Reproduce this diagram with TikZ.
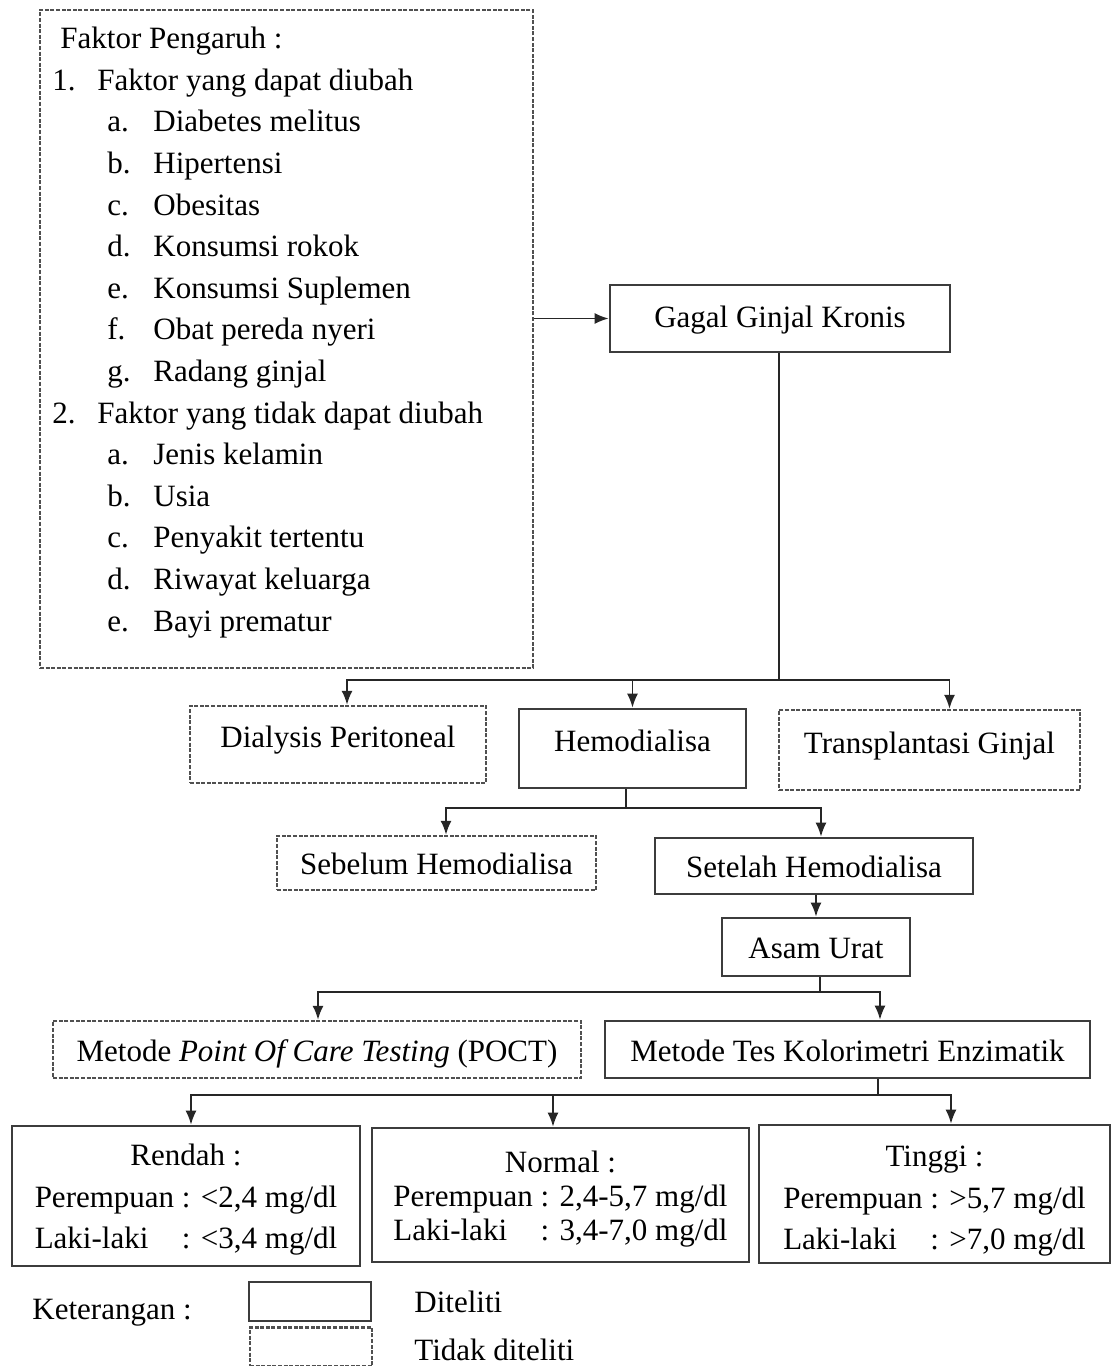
\documentclass[tikz,border=0pt]{standalone}
\usepackage{fontspec}
\setmainfont{Liberation Serif}
\usetikzlibrary{arrows.meta,calc}
\definecolor{boxgray}{RGB}{60,60,60}
\definecolor{dashgray}{RGB}{80,80,80}
\newcommand{\fitem}[2]{\makebox[22.5pt][l]{#1}#2}
\newcommand{\fsub}[2]{\hspace*{27.5pt}\makebox[23pt][l]{#1}#2}
\newcommand{\lakilaki}{\rlap{Laki-laki}\phantom{Perempuan}}

\begin{document}
\begin{tikzpicture}[x=0.5pt, y=-0.5pt,
    font=\fontsize{15.5}{20.8}\selectfont,
    box/.style={draw=boxgray, line width=1.3pt, inner sep=2pt, text height=12pt, text depth=3.5pt},
    dbox/.style={draw=dashgray, line width=1.2pt, dash pattern=on 2pt off 0.8pt, inner sep=2pt,
                 text height=12pt, text depth=3.5pt},
    toptext/.style={text depth=9pt},
    lowtext/.style={text height=15pt},
    kadar/.style={draw=boxgray, line width=1.3pt, inner sep=2pt, align=center},
    conn/.style={draw=black!85, line width=0.9pt},
    arr/.style={conn, -{Latex[length=7pt,width=5.5pt]}}]
\useasboundingbox (0,0) rectangle (1112,1366);

% faktor pengaruh
\node[dbox, minimum width=246.5pt, minimum height=329pt] (faktor) at (286.5,339) {};
\node[anchor=base west, align=left, inner sep=0pt] (faktortxt) at (52,631) {%
    \hspace*{4pt}Faktor Pengaruh :\\
    \fitem{1.}{Faktor yang dapat diubah}\\
    \fsub{a.}{Diabetes melitus}\\
    \fsub{b.}{Hipertensi}\\
    \fsub{c.}{Obesitas}\\
    \fsub{d.}{Konsumsi rokok}\\
    \fsub{e.}{Konsumsi Suplemen}\\
    \fsub{f.}{Obat pereda nyeri}\\
    \fsub{g.}{Radang ginjal}\\
    \fitem{2.}{Faktor yang tidak dapat diubah}\\
    \fsub{a.}{Jenis kelamin}\\
    \fsub{b.}{Usia}\\
    \fsub{c.}{Penyakit tertentu}\\
    \fsub{d.}{Riwayat keluarga}\\
    \fsub{e.}{Bayi prematur}};

\node[box, minimum width=170pt, minimum height=33.5pt] (ggk) at (780,318.5) {Gagal Ginjal Kronis};

% terapi
\node[dbox, toptext, minimum width=148pt, minimum height=38.5pt] (dp) at (338,744.5) {Dialysis Peritoneal};
\node[box, toptext, minimum width=113.5pt, minimum height=39.5pt] (hd) at (632.5,748.5) {Hemodialisa};
\node[dbox, toptext, minimum width=150.5pt, minimum height=40pt] (tg) at (929.5,750) {Transplantasi Ginjal};

\node[dbox, lowtext, minimum width=159.5pt, minimum height=27pt] (sebelum) at (436.5,863) {Sebelum Hemodialisa};
\node[box, lowtext, minimum width=159pt, minimum height=28pt] (setelah) at (814,866) {Setelah Hemodialisa};
\node[box, lowtext, minimum width=94pt, minimum height=29pt] (asam) at (816,947) {Asam Urat};

\node[dbox, lowtext, minimum width=264pt, minimum height=28.5pt] (poct) at (317,1049.5) {Metode \textit{Point Of Care Testing} (POCT)};
\node[box, lowtext, minimum width=242.5pt, minimum height=28.5pt] (kolori) at (847.5,1049.5) {Metode Tes Kolorimetri Enzimatik};

% kadar asam urat
\node[kadar, minimum width=174pt, minimum height=70pt] (rendah) at (186,1196) {%
    \rule{0pt}{14.5pt}Rendah :\\ Perempuan : <2,4 mg/dl\\ \lakilaki{} : <3,4 mg/dl};
\node[kadar, minimum width=188.5pt, minimum height=67pt,
      font=\fontsize{15.5}{17}\selectfont] (normal) at (560.5,1195) {%
    \rule{0pt}{14.5pt}Normal :\\ Perempuan : 2,4-5,7 mg/dl\\ \lakilaki{} : 3,4-7,0 mg/dl};
\node[kadar, minimum width=175.5pt, minimum height=69pt] (tinggi) at (934.5,1194) {%
    \rule{0pt}{17.5pt}Tinggi :\\ Perempuan : >5,7 mg/dl\\ \lakilaki{} : >7,0 mg/dl};

% connectors
\draw[arr] (faktor.east |- ggk.west) -- (ggk.west);

\coordinate (j1) at (779,680);
\draw[conn] (ggk.south -| j1) -- (j1);
\draw[arr] (j1) -| ($(dp.north)+(9,0)$);
\draw[arr] (j1 -| hd.north) -- (hd.north);
\draw[arr] (j1) -| ($(tg.north)+(20,0)$);

\coordinate (j2) at (626,808);
\draw[conn] (hd.south -| j2) -- (j2);
\draw[arr] (j2) -| ($(sebelum.north)+(9.5,0)$);
\draw[arr] (j2) -| ($(setelah.north)+(7,0)$);

\draw[arr] (setelah.south -| asam.north) -- (asam.north);

\coordinate (j3) at (820,992);
\draw[conn] (asam.south -| j3) -- (j3);
\draw[arr] (j3) -| ($(poct.north)+(1,0)$);
\draw[arr] (j3) -| ($(kolori.north)+(32.5,0)$);

\coordinate (j4) at (878,1095);
\draw[conn] (kolori.south -| j4) -- (j4);
\draw[arr] (j4) -| ($(rendah.north)+(5,0)$);
\draw[arr] (j4) -| ($(normal.north)+(-7.5,0)$);
\draw[arr] (j4) -| ($(tinggi.north)+(16.5,0)$);

% keterangan
\node[anchor=west, inner sep=0pt] (ket) at (32,1313) {Keterangan :};
\node[box, minimum width=61pt, minimum height=18.5pt] (legsolid) at (310,1301.5) {};
\node[dbox, minimum width=61pt, minimum height=18.5pt] (legdash) at (311,1347) {};
\node[anchor=west, inner sep=0pt] (diteliti) at (414,1302) {Diteliti};
\node[anchor=west, inner sep=0pt] (tidak) at (414,1350) {Tidak diteliti};
\end{tikzpicture}
\end{document}
